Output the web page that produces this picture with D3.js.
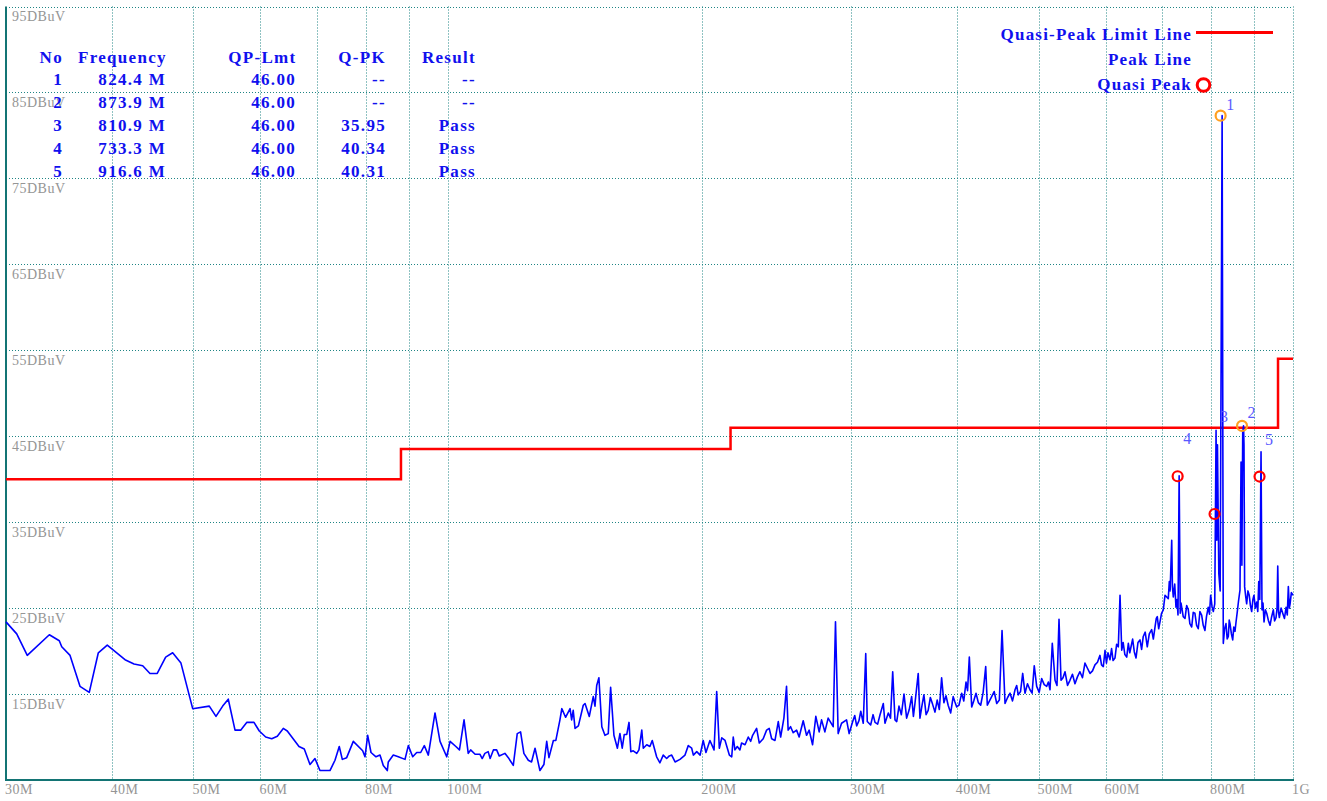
<!DOCTYPE html>
<html>
<head>
<meta charset="utf-8">
<script src="https://cdn.jsdelivr.net/npm/d3@7"></script>
<style>
html,body{margin:0;padding:0;background:#fff;}
svg{display:block;}
</style>
</head>
<body>
<svg id="chart" width="1327" height="801"></svg>
<script>
// ---------- DATA ----------
// Peak-detector trace: [frequency MHz, level dBuV]
const spectrum = [
[30.0,23.4],[30.89,22.0],[31.79,19.5],[33.76,21.9],[34.69,21.2],[34.92,20.5],[35.72,19.5],[36.70,15.9],[37.64,15.2],[38.58,19.8],[39.53,20.7],
[41.49,19.0],[42.52,18.5],[43.54,18.3],[44.41,17.4],[45.30,17.4],[46.35,19.3],[47.24,19.8],[48.32,18.6],[49.89,13.3],
[52.2,13.6],[53.16,12.4],[54.14,13.6],[54.97,14.4],[55.99,10.8],[56.86,10.8],[57.8,11.7],[58.96,11.7],[59.82,10.7],
[60.87,10.0],[61.88,9.8],[62.83,10.1],[63.86,11.0],[64.56,10.7],[66.65,8.9],[67.62,8.6],[68.68,6.8],[69.62,7.5],
[70.57,6.1],[72.52,6.1],[73.52,7.3],[74.38,8.9],[75.0,7.4],[75.9,7.6],[77.28,9.5],[79.28,8.4],[79.78,7.7],
[80.37,10.2],[81.1,8.2],[82.21,7.7],[83.11,7.9],[83.86,6.7],[84.78,6.1],[85.01,7.1],[86.18,7.9],[87.36,7.7],[88.97,7.4],
[89.78,9.0],[90.86,7.7],[91.86,8.2],[92.86,8.2],[93.78,9.0],[94.81,7.9],[96.55,12.8],[97.88,9.5],[99.68,7.7],
[100.6,9.5],[102.2,8.9],[103.2,8.5],[104.5,12.0],[105.7,8.1],[106.4,8.5],[107.7,8.0],[109.1,8.0],[109.8,7.5],[110.6,8.1],
[111.6,8.3],[112.2,7.5],[113.2,8.5],[114.2,8.5],[115.0,7.8],[116.8,8.1],[117.9,7.6],[119.5,6.7],[120.8,10.4],[121.9,10.6],
[123.0,8.1],[124.5,7.3],[125.6,7.1],[126.8,8.7],[128.5,6.1],[129.9,6.8],[130.9,9.5],[131.7,7.6],[133.3,9.6],[134.2,9.6],
[135.7,12.0],[136.4,13.3],[137.8,12.3],[139.5,13.3],[140.1,12.0],[140.7,13.1],[141.4,11.0],[142.7,11.3],[144.6,13.7],[145.3,13.9],
[147.0,12.4],[148.6,14.7],[149.3,13.6],[150.0,16.0],[150.9,16.9],[152.1,11.2],[153.4,10.2],[154.8,10.4],[155.8,15.8],[157.2,10.2],
[158.7,8.7],[159.8,10.4],[160.8,8.7],[161.7,10.3],[162.8,10.3],[163.8,11.7],[164.6,8.3],[165.7,8.4],[167.3,8.1],[168.3,8.5],
[169.6,10.8],[170.3,8.7],[171.9,9.1],[173.4,8.9],[174.5,9.6],[176.6,7.7],[178.2,7.0],[179.8,7.9],[181.5,7.5],[182.8,7.8],
[184.0,7.9],[185.7,7.1],[188.2,7.4],[190.8,7.9],[192.5,9.0],[194.3,8.7],[195.2,7.9],[197.0,8.3],[198.8,7.9],
[200.5,9.6],[202.0,8.2],[204.2,9.6],[206.5,8.5],[208.0,15.3],[209.5,8.7],[210.9,9.9],[212.8,9.6],[215.3,7.9],[216.7,7.7],
[217.6,10.0],[218.6,8.5],[220.0,8.9],[221.6,8.5],[222.6,9.3],[224.7,9.1],[226.7,10.0],[228.2,9.5],[229.4,10.2],[231.9,11.0],
[233.6,9.3],[236.1,9.8],[238.3,10.8],[240.0,11.0],[241.6,9.8],[243.8,9.6],[246.0,11.8],[247.6,10.0],[249.8,12.2],[251.6,15.9],
[252.7,10.8],[254.4,11.2],[256.2,10.5],[258.6,10.8],[260.4,10.0],[263.3,11.9],[265.7,10.2],[267.6,10.8],[270.1,9.1],[272.5,12.4],
[275.0,10.6],[276.8,12.0],[279.3,10.6],[281.8,12.2],[285.7,11.2],[287.5,23.4],[289.6,10.4],[292.3,11.6],[296.3,12.0],[298.4,10.4],
[301.3,11.8],[303.0,12.5],[304.6,11.3],[306.5,11.9],[308.0,13.0],[310.1,11.6],[312.2,19.7],[313.5,11.8],[316.4,11.4],[318.5,12.6],
[320.2,11.7],[322.5,11.5],[324.6,12.6],[327.5,13.9],[329.0,11.6],[332.0,12.8],[334.0,12.2],[336.0,17.6],[338.1,12.0],[339.7,11.8],
[341.8,13.6],[344.0,12.6],[346.5,15.0],[349.0,12.2],[351.5,13.2],[353.8,14.7],[355.5,12.4],[357.0,13.9],[360.2,17.4],[361.9,12.2],
[363.8,13.6],[365.8,14.9],[368.0,12.6],[370.1,13.1],[372.3,14.6],[374.6,13.8],[377.0,12.9],[379.3,14.3],[381.5,13.2],[383.9,16.9],
[386.3,14.0],[388.5,14.8],[390.8,13.7],[393.5,12.8],[396.2,14.7],[398.0,14.1],[400.0,13.5],[402.5,13.7],[405.5,15.1],[407.8,14.2],
[410.3,16.4],[412.0,15.4],[414.0,19.3],[416.7,13.5],[419.0,14.2],[421.6,15.1],[424.3,14.0],[427.0,13.7],[429.9,15.2],[432.9,18.2],
[434.8,13.7],[437.4,14.2],[440.0,14.7],[443.0,15.3],[446.1,13.9],[449.3,14.3],[452.6,22.4],[456.3,13.9],[459.5,14.6],[462.6,15.1],
[465.7,14.2],[468.9,15.5],[471.0,16.0],[473.0,14.9],[476.0,15.3],[478.8,17.4],[481.8,15.1],[485.1,16.2],[488.4,15.5],[491.2,15.1],
[494.1,18.3],[497.4,15.9],[500.8,15.2],[504.2,16.8],[507.7,16.1],[511.2,15.9],[513.5,16.4],[515.8,15.5],[519.0,20.9],[522.9,16.6],
[525.7,16.0],[528.6,23.7],[531.5,16.6],[534.4,16.9],[537.3,17.6],[541.0,16.0],[544.6,16.6],[548.3,17.3],[552.1,16.2],[555.8,17.0],
[559.6,17.6],[563.5,16.9],[567.3,18.6],[571.2,18.0],[575.2,17.4],[579.1,17.7],[583.0,18.4],[587.0,18.7],[591.0,19.5],[593.5,18.4],
[596.4,18.2],[599.2,20.1],[601.5,18.6],[604.0,19.8],[607.4,19.0],[610.0,20.3],[612.5,18.9],[615.7,19.2],[618.5,20.8],[621.3,20.5],
[624.2,26.5],[627.1,20.1],[629.5,21.0],[632.5,19.6],[635.7,19.3],[638.5,20.9],[641.0,19.8],[643.2,20.5],[646.0,21.4],[649.0,19.9],
[652.0,19.2],[655.5,21.0],[659.1,21.3],[662.0,20.2],[665.0,21.7],[668.5,22.2],[672.3,20.5],[676.0,22.0],[680.4,22.5],[683.5,21.4],
[686.6,22.8],[689.0,23.8],[690.9,24.0],[693.5,22.6],[696.0,23.4],[699.0,24.4],[702.3,24.8],[705.6,26.5],[708.8,26.3],[711.9,26.1],
[713.9,28.1],[715.5,27.0],[718.6,32.9],[720.0,27.5],[721.7,26.3],[724.5,27.8],[727.0,25.1],[729.0,26.0],[731.0,24.2],[733.3,40.4],
[735.5,24.4],[737.0,25.6],[738.4,25.1],[741.5,24.0],[745.1,23.8],[748.5,25.3],[751.8,24.8],[755.0,23.2],[758.8,22.8],[762.0,24.5],
[765.5,24.4],[769.0,23.0],[772.5,22.6],[776.0,24.6],[779.6,24.2],[783.0,23.0],[786.7,22.4],[790.0,24.0],[793.8,25.1],[796.5,24.3],
[799.0,26.5],[802.0,25.2],[804.8,24.6],[808.0,25.5],[810.9,45.7],[812.5,32.9],[814.0,44.0],[817.0,29.0],[820.0,27.0],[824.4,82.3],
[827.0,20.9],[830.0,22.6],[833.1,23.2],[835.8,21.4],[838.4,21.7],[840.5,23.6],[842.3,23.2],[845.5,22.0],[848.5,21.3],[851.0,22.8],
[853.8,22.3],[856.5,23.5],[859.2,24.6],[862.0,25.8],[865.5,27.1],[868.0,42.0],[870.0,30.0],[872.0,45.5],[873.9,46.2],[875.0,44.0],
[876.5,27.5],[879.0,26.4],[881.4,25.5],[884.5,27.0],[887.6,26.5],[890.5,25.3],[893.5,24.6],[896.5,26.0],[899.1,26.5],[902.5,25.0],
[905.9,25.7],[908.5,24.6],[910.9,28.1],[913.5,26.0],[916.6,43.2],[919.0,24.8],[921.5,25.6],[924.1,23.4],[927.5,24.8],[930.9,24.4],
[935.0,23.6],[939.3,23.0],[943.5,24.0],[947.8,24.8],[951.0,23.5],[954.8,23.9],[957.5,25.0],[959.3,29.9],[961.5,24.5],[963.5,23.9],
[968.0,25.0],[972.4,24.4],[977.0,23.8],[981.3,25.1],[984.5,24.2],[987.4,27.5],[990.0,25.0],[992.1,25.5],[995.5,26.8],[1000,26.5]
];

const limitFreq  = [30, 88, 216, 960, 1000];
const limitLevel = [40, 43.5, 46, 54, 54];

const markerNo         = [1, 2, 3, 4, 5];
const markerFreq       = [824.4, 873.9, 810.9, 733.3, 916.6];
const markerLevel      = [82.3, 46.2, 35.95, 40.34, 40.31];
const markerKind       = ["peak", "peak", "qp", "qp", "qp"];
const markerLabelLevel = [83.0, 47.1, 46.6, 44.1, 44.0];

const tableHeader    = ["No", "Frequency", "QP-Lmt", "Q-PK", "Result"];
const tableNo        = ["1", "2", "3", "4", "5"];
const tableFrequency = ["824.4 M", "873.9 M", "810.9 M", "733.3 M", "916.6 M"];
const tableLimit     = ["46.00", "46.00", "46.00", "46.00", "46.00"];
const tableQP        = ["--", "--", "35.95", "40.34", "40.31"];
const tableResult    = ["--", "--", "Pass", "Pass", "Pass"];

const yTickValues = [95, 85, 75, 65, 55, 45, 35, 25, 15];
const yTickLabels = ["95DBuV","85DBuV","75DBuV","65DBuV","55DBuV","45DBuV","35DBuV","25DBuV","15DBuV"];
const xGridValues = [40, 50, 60, 70, 80, 90, 100, 200, 300, 400, 500, 600, 700, 800, 900, 1000];
const xTickValues = [30, 40, 50, 60, 80, 100, 200, 300, 400, 500, 600, 800, 1000];
const xTickLabels = ["30M","40M","50M","60M","80M","100M","200M","300M","400M","500M","600M","800M","1G"];

const legendLabels = ["Quasi-Peak Limit Line", "Peak Line", "Quasi Peak"];

// ---------- CHART ----------
const W = 1327, H = 801;
const plot = {left: 6, right: 1293, top: 6.5, bottom: 780};
const svg = d3.select("#chart");
svg.append("rect").attr("width", W).attr("height", H).attr("fill", "#fff");

const x = d3.scaleLog().domain([30, 1000]).range([plot.left, plot.right]);
const y = d3.scaleLinear().domain([5, 95]).range([plot.bottom, plot.top]);

const serif = "'Liberation Serif','Times New Roman',serif";
const gridColor = "#1f8585";
const blue = "#1010ee";

// grid
const grid = svg.append("g");
grid.selectAll("line.h").data(yTickValues).join("line")
  .attr("x1", plot.left).attr("x2", plot.right)
  .attr("y1", d => Math.round(y(d)) + 0.5).attr("y2", d => Math.round(y(d)) + 0.5)
  .attr("stroke", gridColor).attr("stroke-width", 1).attr("stroke-dasharray", "1,2");
grid.selectAll("line.v").data(xGridValues).join("line")
  .attr("x1", d => Math.round(x(d)) + 0.5).attr("x2", d => Math.round(x(d)) + 0.5)
  .attr("y1", plot.top).attr("y2", plot.bottom)
  .attr("stroke", gridColor).attr("stroke-width", 1).attr("stroke-dasharray", "1,2");

// solid axes (left & bottom)
svg.append("line").attr("x1", plot.left).attr("x2", plot.left)
  .attr("y1", plot.top).attr("y2", plot.bottom + 1)
  .attr("stroke", "#137474").attr("stroke-width", 2);
svg.append("line").attr("x1", plot.left - 1).attr("x2", plot.right + 1)
  .attr("y1", plot.bottom).attr("y2", plot.bottom)
  .attr("stroke", "#137474").attr("stroke-width", 2);

// y labels
svg.append("g").selectAll("text").data(yTickValues).join("text")
  .attr("x", 12).attr("y", d => y(d) + 14.5)
  .attr("font-family", serif).attr("font-size", 14).attr("letter-spacing", 0.5)
  .attr("fill", "#959595")
  .text((d, i) => yTickLabels[i]);

// x labels
svg.append("g").selectAll("text").data(xTickValues).join("text")
  .attr("x", d => x(d) - 1).attr("y", 794)
  .attr("font-family", serif).attr("font-size", 14).attr("letter-spacing", 0.5)
  .attr("fill", "#959595")
  .text((d, i) => xTickLabels[i]);

// limit line
const limitPts = limitFreq.map((f, i) => [f, limitLevel[i]]);
svg.append("path").datum(limitPts)
  .attr("d", d3.line().x(d => x(d[0])).y(d => y(d[1])).curve(d3.curveStepAfter))
  .attr("fill", "none").attr("stroke", "#ff0000").attr("stroke-width", 2.5);

// spectrum
svg.append("path").datum(spectrum)
  .attr("d", d3.line().x(d => x(d[0])).y(d => y(d[1])))
  .attr("fill", "none").attr("stroke", "#0000ff").attr("stroke-width", 1.6)
  .attr("stroke-linejoin", "round");

// markers
const markers = markerNo.map((n, i) => ({n, f: markerFreq[i], v: markerLevel[i], k: markerKind[i], lv: markerLabelLevel[i]}));
svg.append("g").selectAll("circle").data(markers).join("circle")
  .attr("cx", d => x(d.f) - 1.5).attr("cy", d => y(d.v)).attr("r", 5)
  .attr("fill", "none").attr("stroke", d => d.k === "qp" ? "#ff0000" : "#ffa020").attr("stroke-width", 2.2);
svg.append("g").selectAll("text").data(markers).join("text")
  .attr("x", d => x(d.f) + 8).attr("y", d => y(d.lv))
  .attr("text-anchor", "middle")
  .attr("font-family", serif).attr("font-size", 16).attr("fill", "#5a5aff")
  .text(d => d.n);

// table
const tbl = svg.append("g").attr("font-family", serif).attr("font-weight", "bold")
  .attr("font-size", 17).attr("fill", blue).attr("letter-spacing", 1.3);
const headerY = 62.5, rowY0 = 84.5, rowH = 23;
const colDefs = [
  {x: 63, vals: tableNo},
  {x: 166, vals: tableFrequency},
  {x: 296, vals: tableLimit},
  {x: 386, vals: tableQP},
  {x: 476, vals: tableResult}
];
tbl.append("text").attr("x", 63).attr("y", headerY).attr("text-anchor", "end").text(tableHeader[0]);
tbl.append("text").attr("x", 78).attr("y", headerY).attr("text-anchor", "start").text(tableHeader[1]);
tbl.append("text").attr("x", 296.5).attr("y", headerY).attr("text-anchor", "end").text(tableHeader[2]);
tbl.append("text").attr("x", 386).attr("y", headerY).attr("text-anchor", "end").text(tableHeader[3]);
tbl.append("text").attr("x", 476).attr("y", headerY).attr("text-anchor", "end").text(tableHeader[4]);
colDefs.forEach(c => {
  tbl.append("g").selectAll("text").data(c.vals).join("text")
    .attr("x", c.x).attr("y", (d, i) => rowY0 + i * rowH)
    .attr("text-anchor", "end").text(d => d);
});

// legend
const lg = svg.append("g").attr("font-family", serif).attr("font-weight", "bold")
  .attr("font-size", 17).attr("fill", blue).attr("letter-spacing", 1.2);
const legendY = [39.5, 64.5, 90];
lg.selectAll("text").data(legendLabels).join("text")
  .attr("x", 1192).attr("y", (d, i) => legendY[i]).attr("text-anchor", "end").text(d => d);
svg.append("line").attr("x1", 1196).attr("x2", 1273).attr("y1", 32.5).attr("y2", 32.5)
  .attr("stroke", "#ff0000").attr("stroke-width", 3);
svg.append("circle").attr("cx", 1203.5).attr("cy", 85).attr("r", 6.3)
  .attr("fill", "none").attr("stroke", "#ff0000").attr("stroke-width", 3);
</script>
</body>
</html>
